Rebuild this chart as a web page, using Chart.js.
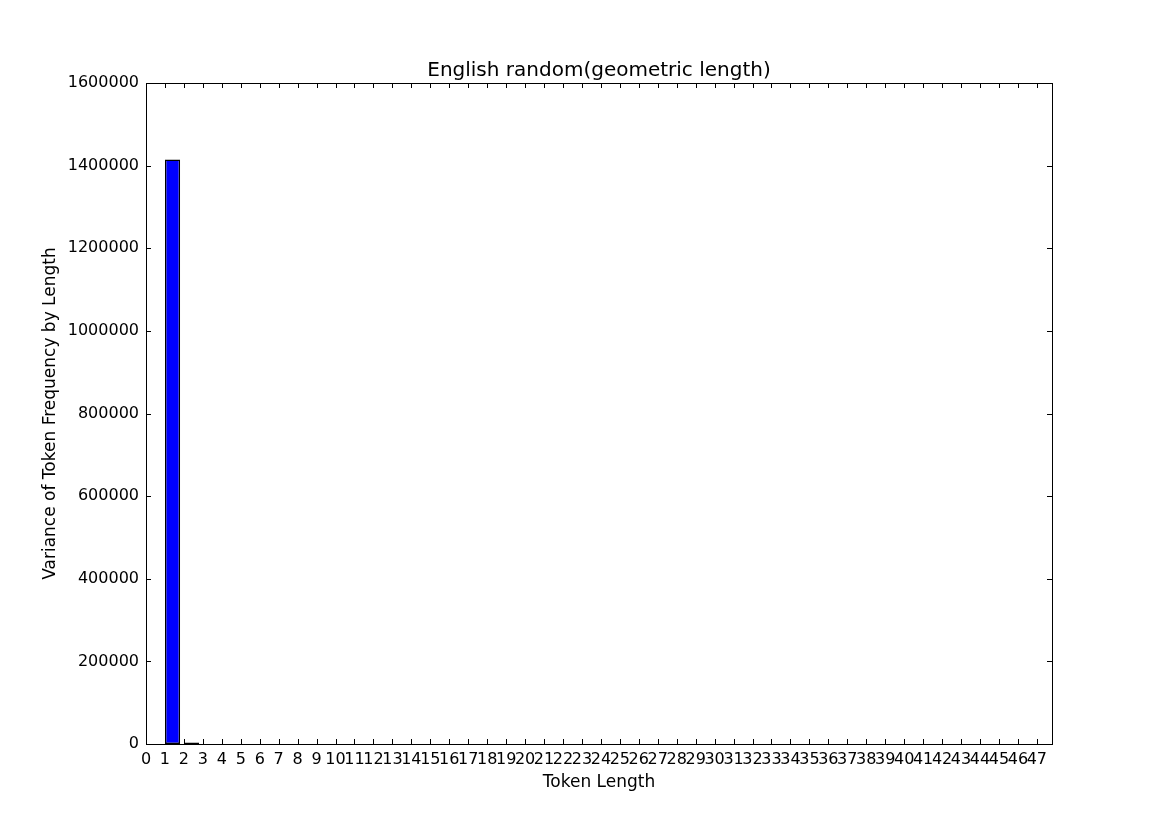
<!DOCTYPE html>
<html>
<head>
<meta charset="utf-8">
<script src="https://cdn.jsdelivr.net/npm/chart.js@4.4.1/dist/chart.umd.min.js"></script>
<style>
  body { margin: 0; background: #fff; }
  canvas { display: block; }
</style>
</head>
<body>
<canvas id="lengthChart" width="1169" height="827"></canvas>
<script>
// token lengths 1..47 and the variance of their frequency
const tokenLengths = [
  1, 2, 3, 4, 5, 6, 7, 8, 9, 10, 11, 12, 13, 14, 15, 16, 17, 18, 19, 20, 21, 22, 23, 24,
  25, 26, 27, 28, 29, 30, 31, 32, 33, 34, 35, 36, 37, 38, 39, 40, 41, 42, 43, 44, 45, 46, 47,
];
const variances = [
  1415000, 3500, 0, 0, 0, 0, 0, 0, 0, 0, 0, 0, 0, 0, 0, 0, 0, 0, 0, 0, 0, 0, 0, 0,
  0, 0, 0, 0, 0, 0, 0, 0, 0, 0, 0, 0, 0, 0, 0, 0, 0, 0, 0, 0, 0, 0, 0,
];
const xTicks = [
  0, 1, 2, 3, 4, 5, 6, 7, 8, 9, 10, 11, 12, 13, 14, 15, 16, 17, 18, 19, 20, 21, 22, 23,
  24, 25, 26, 27, 28, 29, 30, 31, 32, 33, 34, 35, 36, 37, 38, 39, 40, 41, 42, 43, 44, 45, 46, 47,
];
const yTicks = [0, 200000, 400000, 600000, 800000, 1000000, 1200000, 1400000, 1600000];

const barWidth = 0.8;
const font = "'DejaVu Sans', sans-serif";

// matplotlib style frame with ticks pointing inside
const framePlugin = {
  id: "frame",
  afterDraw(chart) {
    const { ctx, chartArea: a, scales } = chart;
    const len = 5;
    ctx.save();
    ctx.strokeStyle = "#000";
    ctx.lineWidth = 1;
    ctx.beginPath();
    scales.x.ticks.forEach((t) => {
      const px = Math.round(scales.x.getPixelForValue(t.value)) + 0.5;
      ctx.moveTo(px, a.bottom);
      ctx.lineTo(px, a.bottom - len);
      ctx.moveTo(px, a.top);
      ctx.lineTo(px, a.top + len);
    });
    scales.y.ticks.forEach((t) => {
      const py = Math.round(scales.y.getPixelForValue(t.value)) + 0.5;
      ctx.moveTo(a.left, py);
      ctx.lineTo(a.left + len, py);
      ctx.moveTo(a.right, py);
      ctx.lineTo(a.right - len, py);
    });
    ctx.stroke();
    ctx.strokeRect(
      Math.round(a.left) + 0.5,
      Math.round(a.top) + 0.5,
      Math.round(a.right - a.left),
      Math.round(a.bottom - a.top)
    );
    ctx.restore();
  },
};

const data = {
  datasets: [
    {
      label: "Variance",
      data: tokenLengths.map((len, i) => ({ x: len + barWidth / 2, y: variances[i] })),
      backgroundColor: "#0000ff",
      borderColor: "#000",
      borderWidth: 1.5,
      borderSkipped: false,
      barPercentage: barWidth,
      categoryPercentage: 1,
    },
  ],
};

const config = {
  type: "bar",
  data: data,
  plugins: [framePlugin],
  options: {
    responsive: false,
    devicePixelRatio: 1,
    animation: false,
    layout: { padding: { left: 0, right: 117, top: 0, bottom: 0 } },
    plugins: {
      legend: { display: false },
      tooltip: { enabled: false },
      title: {
        display: true,
        text: "English random(geometric length)",
        color: "#000",
        fullSize: false,
        font: { family: font, size: 20, weight: "normal", lineHeight: 1.2 },
        padding: { top: 59, bottom: 0 },
      },
    },
    scales: {
      x: {
        type: "linear",
        offset: false,
        min: 0,
        max: 47 + barWidth,
        afterBuildTicks: (scale) => {
          scale.ticks = xTicks.map((v) => ({ value: v }));
        },
        afterFit: (scale) => {
          scale.height = 83;
        },
        grid: { display: false, drawTicks: false },
        border: { display: false },
        ticks: {
          autoSkip: false,
          maxRotation: 0,
          minRotation: 0,
          padding: 6,
          color: "#000",
          font: { family: font, size: 16 },
          callback: (v) => String(v),
        },
        title: {
          display: true,
          text: "Token Length",
          color: "#000",
          font: { family: font, size: 17 },
          padding: { top: 0, bottom: 34 },
        },
      },
      y: {
        min: 0,
        max: 1600000,
        afterBuildTicks: (scale) => {
          scale.ticks = yTicks.map((v) => ({ value: v }));
        },
        afterFit: (scale) => {
          scale.width = 146;
        },
        grid: { display: false, drawTicks: false },
        border: { display: false },
        ticks: {
          padding: 7,
          color: "#000",
          font: { family: font, size: 16 },
          callback: (v) => String(v),
        },
        title: {
          display: true,
          text: "Variance of Token Frequency by Length",
          color: "#000",
          font: { family: font, size: 17 },
          padding: { top: 40, bottom: 0 },
        },
      },
    },
  },
};

new Chart(document.getElementById("lengthChart"), config);
</script>
</body>
</html>
